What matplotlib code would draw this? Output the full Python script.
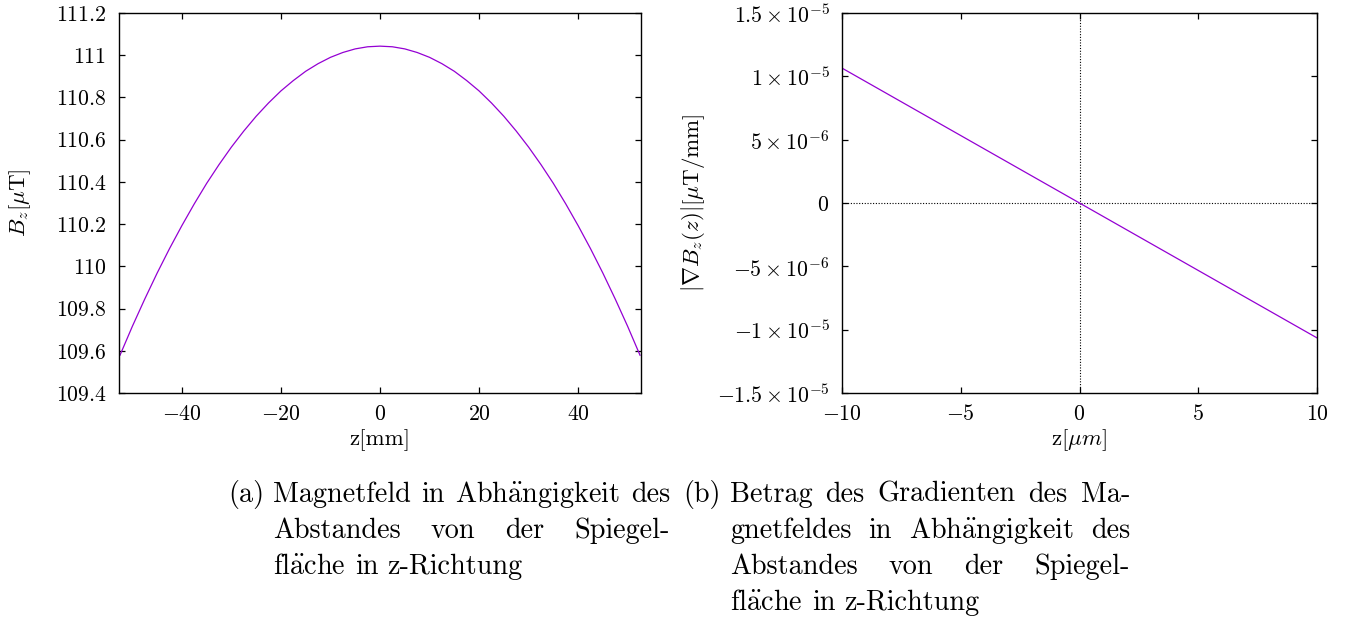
import matplotlib
matplotlib.use("Agg")
import matplotlib.pyplot as plt

# ---------------------------------------------------------
# Schrift: Computer Modern (wie LaTeX)
# ---------------------------------------------------------
plt.rcParams['font.family'] = 'serif'
plt.rcParams['font.serif'] = ['cmr10', 'DejaVu Serif']
plt.rcParams['mathtext.fontset'] = 'cm'
plt.rcParams['axes.formatter.use_mathtext'] = True
plt.rcParams['axes.unicode_minus'] = False

# ---------------------------------------------------------
# Daten
# ---------------------------------------------------------
# (a) Magnetfeld B_z in µT gegen z in mm
z_mm = [-52.5, -50, -47.5, -45, -42.5, -40, -37.5, -35, -32.5, -30, -27.5,
        -25, -22.5, -20, -17.5, -15, -12.5, -10, -7.5, -5, -2.5, 0,
        2.5, 5, 7.5, 10, 12.5, 15, 17.5, 20, 22.5, 25, 27.5, 30, 32.5,
        35, 37.5, 40, 42.5, 45, 47.5, 50, 52.5]
bz_uT = [109.579, 109.716, 109.845, 109.968, 110.084, 110.193, 110.296,
         110.393, 110.482, 110.565, 110.641, 110.711, 110.774, 110.831,
         110.880, 110.924, 110.960, 110.990, 111.013, 111.030, 111.040,
         111.043,
         111.040, 111.030, 111.013, 110.990, 110.960, 110.924, 110.880,
         110.831, 110.774, 110.711, 110.641, 110.565, 110.482, 110.393,
         110.296, 110.193, 110.084, 109.968, 109.845, 109.716, 109.579]

# (b) Gradient gegen z in µm
z_um = [-10, -5, 0, 5, 10]
grad = [1.065e-5, 0.5325e-5, 0.0, -0.5325e-5, -1.065e-5]

# Achsenbeschriftungen
xticks_a = [-40, -20, 0, 20, 40]
xticklabels_a = [r'$-40$', r'$-20$', r'$0$', r'$20$', r'$40$']
yticks_a = [109.4, 109.6, 109.8, 110.0, 110.2, 110.4, 110.6, 110.8, 111.0, 111.2]
yticklabels_a = [r'$109.4$', r'$109.6$', r'$109.8$', r'$110$', r'$110.2$',
                 r'$110.4$', r'$110.6$', r'$110.8$', r'$111$', r'$111.2$']
xticks_b = [-10, -5, 0, 5, 10]
xticklabels_b = [r'$-10$', r'$-5$', r'$0$', r'$5$', r'$10$']
yticks_b = [-1.5e-5, -1e-5, -5e-6, 0, 5e-6, 1e-5, 1.5e-5]
yticklabels_b = [r'$-1.5\times10^{-5}$', r'$-1\times10^{-5}$', r'$-5\times10^{-6}$',
                 r'$0$', r'$5\times10^{-6}$', r'$1\times10^{-5}$', r'$1.5\times10^{-5}$']

caption_a = [["Magnetfeld", "in", "Abh$\\ddot{\\mathrm{a}}$ngigkeit", "des"],
             ["Abstandes", "von", "der", "Spiegel-"],
             ["fl$\\ddot{\\mathrm{a}}$che", "in", "z-Richtung"]]
caption_b = [["Betrag", "des", "Gradienten", "des", "Ma-"],
             ["gnetfeldes", "in", "Abh$\\ddot{\\mathrm{a}}$ngigkeit", "des"],
             ["Abstandes", "von", "der", "Spiegel-"],
             ["fl$\\ddot{\\mathrm{a}}$che", "in", "z-Richtung"]]

LINE_COLOR = '#9400D3'
TICK_FS = 15.7
LABEL_FS = 16.5
CAP_FS = 20.3
W, H = 1347, 620

fig = plt.figure(figsize=(W / 100, H / 100), dpi=100)


def px_axes(x0, y0, x1, y1):
    # Pixelkoordinaten (oben links) -> Figure-Bruchteile
    return fig.add_axes([x0 / W, 1 - y1 / H, (x1 - x0) / W, (y1 - y0) / H])


def style_axes(ax):
    for sp in ax.spines.values():
        sp.set_linewidth(1.0)
    ax.tick_params(direction='in', length=4.5, width=0.9, top=True, right=True,
                   labelsize=TICK_FS)
    ax.tick_params(axis='x', pad=8)
    ax.tick_params(axis='y', pad=9)


# ---------------- (a) ----------------
ax1 = px_axes(119, 13, 641, 393)
ax1.plot(z_mm, bz_uT, color=LINE_COLOR, lw=0.9)
ax1.set_xlim(-52.7, 52.7)
ax1.set_ylim(109.4, 111.2)
ax1.set_xticks(xticks_a)
ax1.set_xticklabels(xticklabels_a)
ax1.set_yticks(yticks_a)
ax1.set_yticklabels(yticklabels_a)
style_axes(ax1)
ax1.set_xlabel('z[mm]', fontsize=LABEL_FS, va='center')
ax1.xaxis.set_label_coords(0.5, (393 - 440) / 380)
ax1.set_ylabel(r'$B_z[\mu\mathrm{T}]$', fontsize=LABEL_FS, va='center')
ax1.yaxis.set_label_coords((20 - 119) / 522, 0.5)

# ---------------- (b) ----------------
ax2 = px_axes(842, 13, 1317, 393)
ax2.axhline(0, color='black', lw=0.8, ls=(0, (1, 1.5)), zorder=1)
ax2.axvline(0, color='black', lw=0.8, ls=(0, (1, 1.5)), zorder=1)
ax2.plot(z_um, grad, color=LINE_COLOR, lw=0.9, zorder=2)
ax2.set_xlim(-10, 10)
ax2.set_ylim(-1.5e-5, 1.5e-5)
ax2.set_xticks(xticks_b)
ax2.set_xticklabels(xticklabels_b)
ax2.set_yticks(yticks_b)
ax2.set_yticklabels(yticklabels_b)
style_axes(ax2)
ax2.set_xlabel(r'z$[\mu m]$', fontsize=LABEL_FS, va='center')
ax2.xaxis.set_label_coords(0.5, (393 - 440) / 380)
ax2.set_ylabel(r'$|\nabla B_z(z)|[\mu\mathrm{T/mm}]$', fontsize=LABEL_FS, va='center')
ax2.yaxis.set_label_coords((693 - 842) / 475, 0.5)

# ---------------------------------------------------------
# Bildunterschriften im Blocksatz
# ---------------------------------------------------------
renderer = fig.canvas.get_renderer()


def text_width(s):
    t = fig.text(0, 0, s, fontsize=CAP_FS)
    w = t.get_window_extent(renderer).width
    t.remove()
    return w


def justified_block(label, label_x, lines, x0, x1, y_first, dy):
    fig.text(label_x / W, 1 - y_first / H, label, fontsize=CAP_FS, va='baseline')
    space = max(text_width('a a') - 2 * text_width('a'), 5)
    for i, words in enumerate(lines):
        y = 1 - (y_first + i * dy) / H
        texts = [fig.text(0, y, w, fontsize=CAP_FS, va='baseline') for w in words]
        widths = [t.get_window_extent(renderer).width for t in texts]
        if i == len(lines) - 1:
            gap = space
        else:
            gap = max((x1 - x0 - sum(widths)) / (len(words) - 1), 3)
        x = x0
        for t, w in zip(texts, widths):
            t.set_x(x / W)
            x += w + gap


justified_block('(a)', 228, caption_a, 273, 670, 502, 36)
justified_block('(b)', 683, caption_b, 730, 1130, 502, 36)

fig.savefig('out.png', dpi=100)
